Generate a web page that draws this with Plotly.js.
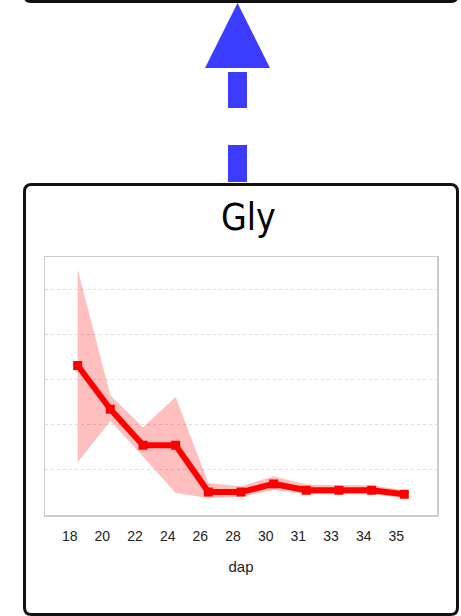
<!DOCTYPE html>
<html>
<head>
<meta charset="utf-8">
<script src="https://cdn.plot.ly/plotly-3.0.1.min.js"></script>
<style>
  html, body { margin: 0; padding: 0; background: #ffffff; }
  #chart { width: 461px; height: 616px; }
</style>
</head>
<body>
<div id="chart"></div>
<script>
// ---- data ----
const categories = ["18", "20", "22", "24", "26", "28", "30", "31", "33", "34", "35"];
const meanValues = [3.32, 2.35, 1.55, 1.55, 0.51, 0.51, 0.69, 0.55, 0.55, 0.55, 0.46];
const upperValues = [5.46, 2.66, 1.95, 2.62, 0.71, 0.64, 0.86, 0.68, 0.66, 0.66, 0.55];
const lowerValues = [1.17, 2.09, 1.30, 0.49, 0.38, 0.40, 0.56, 0.46, 0.46, 0.46, 0.38];
const chartTitle = "Gly";
const xTitle = "dap";

// ---- layout helpers (decorations in pixel space -> paper space) ----
const L = 45, R = 437, T = 257, B = 515;
const px = X => (X - L) / (R - L);
const py = Y => (B - Y) / (B - T);
function rrect(x0, y0, x1, y1, r) {
  const p = (X, Y) => px(X) + "," + py(Y);
  return "M" + p(x0 + r, y0) + " L" + p(x1 - r, y0) +
    " Q" + p(x1, y0) + " " + p(x1, y0 + r) +
    " L" + p(x1, y1 - r) +
    " Q" + p(x1, y1) + " " + p(x1 - r, y1) +
    " L" + p(x0 + r, y1) +
    " Q" + p(x0, y1) + " " + p(x0, y1 - r) +
    " L" + p(x0, y0 + r) +
    " Q" + p(x0, y0) + " " + p(x0 + r, y0) + " Z";
}
function poly(pts) {
  return "M" + pts.map(q => px(q[0]) + "," + py(q[1])).join(" L") + " Z";
}
const blue = "#3c3cff";

const traces = [
  {
    x: categories, y: lowerValues, type: "scatter", mode: "lines",
    line: { width: 0, color: "rgba(255,0,0,0)" }, hoverinfo: "skip", showlegend: false
  },
  {
    x: categories, y: upperValues, type: "scatter", mode: "lines",
    fill: "tonexty", fillcolor: "rgba(255,0,0,0.25)",
    line: { width: 0, color: "rgba(255,0,0,0)" }, hoverinfo: "skip", showlegend: false
  },
  {
    x: categories, y: meanValues, type: "scatter", mode: "lines+markers",
    line: { color: "#ff0000", width: 6 },
    marker: { symbol: "square", size: 9, color: "#ff0000" },
    showlegend: false
  }
];

const layout = {
  width: 461, height: 616,
  margin: { l: L, r: 461 - R, t: T, b: 616 - B, pad: 0 },
  paper_bgcolor: "#ffffff", plot_bgcolor: "#ffffff",
  showlegend: false,
  xaxis: {
    type: "category", range: [-1, 11],
    showgrid: false, zeroline: false,
    showline: true, mirror: true, linecolor: "#cccccc", linewidth: 1.5,
    ticks: "", ticklabelshift: -8, ticklabelstandoff: 8,
    tickfont: { family: "Liberation Sans Narrow, Arial Narrow, Liberation Sans, Arial", size: 14, color: "#222222" },
    title: { text: xTitle, standoff: 18,
      font: { family: "Liberation Sans, Arial", size: 15, color: "#222222" } },
    fixedrange: true
  },
  yaxis: {
    range: [0, 5.73], dtick: 1,
    showgrid: true, gridcolor: "#dddddd", griddash: "3px,3px", gridwidth: 1,
    zeroline: false, showticklabels: false, ticks: "",
    showline: true, mirror: true, linecolor: "#cccccc", linewidth: 1.5,
    fixedrange: true
  },
  annotations: [
    {
      text: chartTitle, xref: "paper", yref: "paper",
      x: px(248), y: py(217), xanchor: "center", yanchor: "middle",
      showarrow: false,
      font: { family: "DejaVu Sans Condensed, DejaVu Sans", size: 37, color: "#000000" }
    }
  ],
  shapes: [
    { type: "path", xref: "paper", yref: "paper", path: rrect(25, -20, 457, 1.5, 6),
      line: { color: "#111111", width: 3 }, fillcolor: "rgba(0,0,0,0)", layer: "below" },
    { type: "path", xref: "paper", yref: "paper", path: rrect(24.5, 184.5, 457.5, 614.5, 7),
      line: { color: "#111111", width: 3 }, fillcolor: "rgba(0,0,0,0)", layer: "below" },
    { type: "path", xref: "paper", yref: "paper", path: poly([[237.5, 3], [270, 68], [205, 68]]),
      line: { width: 0 }, fillcolor: blue },
    { type: "path", xref: "paper", yref: "paper", path: poly([[228, 72], [247, 72], [247, 108], [228, 108]]),
      line: { width: 0 }, fillcolor: blue },
    { type: "path", xref: "paper", yref: "paper", path: poly([[228, 145], [247, 145], [247, 182], [228, 182]]),
      line: { width: 0 }, fillcolor: blue }
  ]
};

Plotly.newPlot("chart", traces, layout, { displayModeBar: false, staticPlot: true });
</script>
</body>
</html>
